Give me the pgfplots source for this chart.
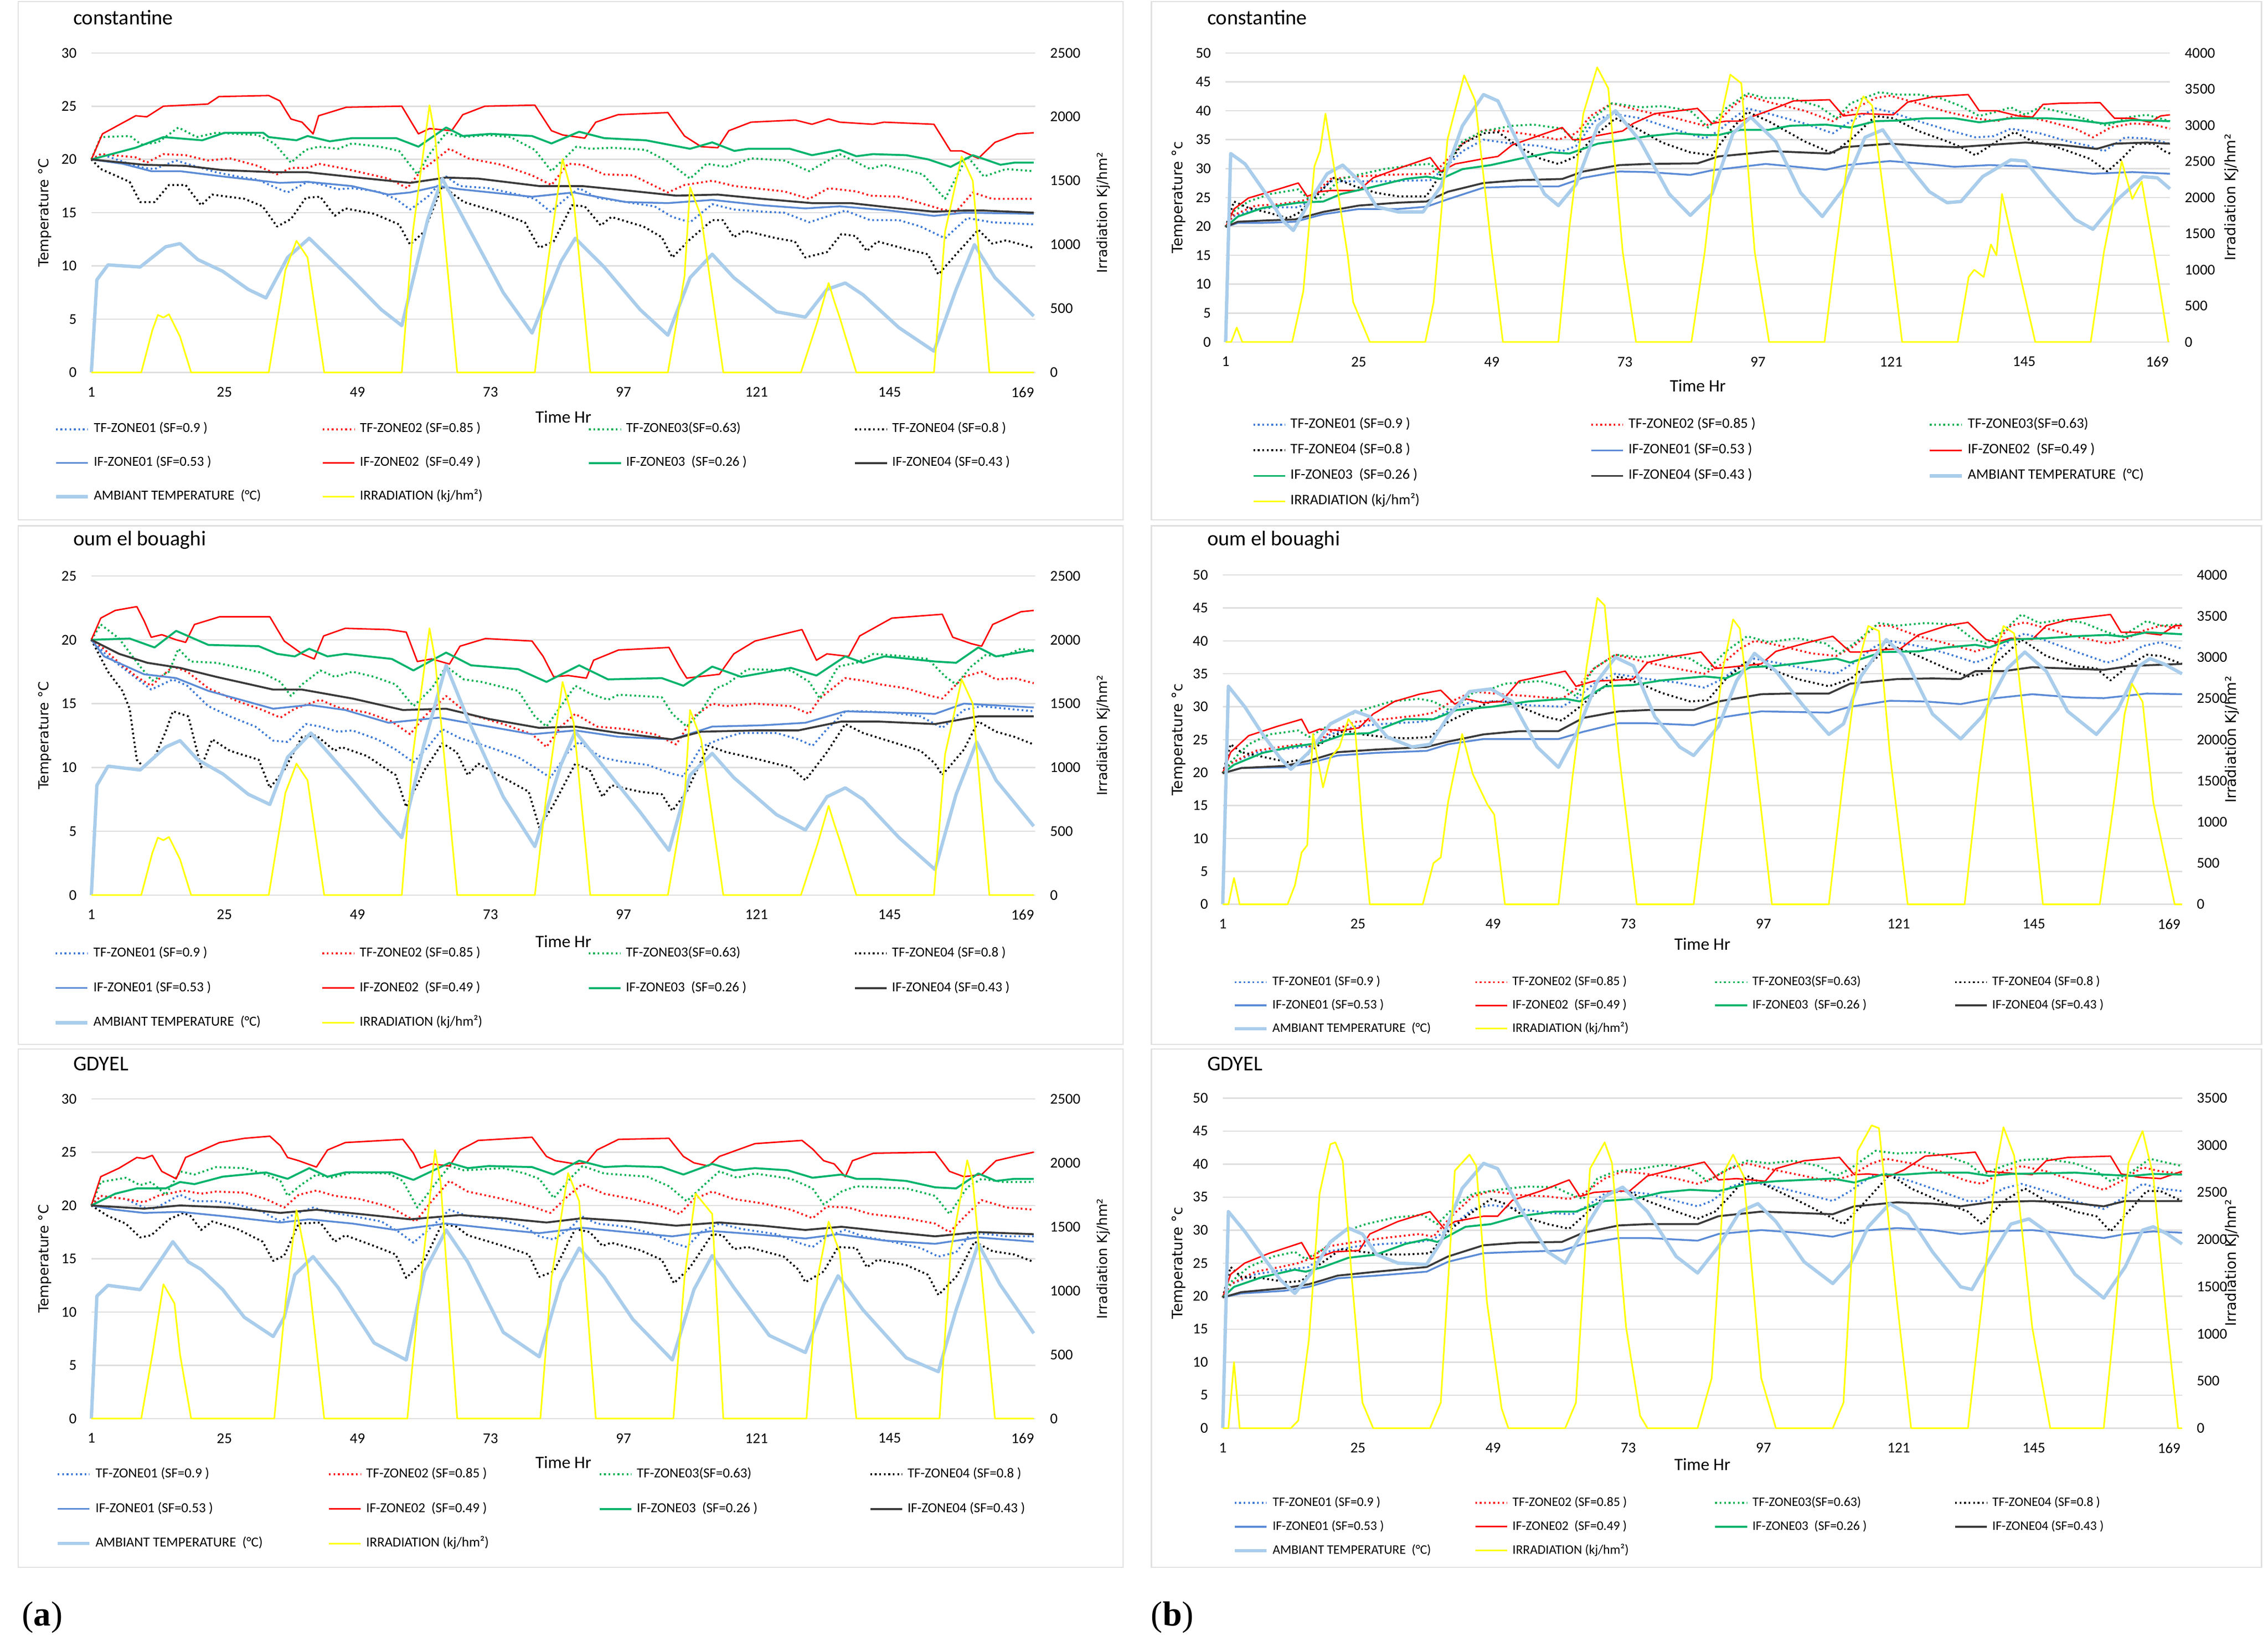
\documentclass[border=0pt]{standalone}
\usepackage{fontspec}
\setmainfont{Carlito}
\newfontfamily\dejavu{DejaVu Sans}
\newfontfamily\lserif{Liberation Serif}
\usepackage{pgfplots}
\pgfplotsset{compat=1.18}

\definecolor{tfblue}{HTML}{3B78D8}
\definecolor{ifblue}{HTML}{5B8BD6}
\definecolor{tfred}{HTML}{FF1A1A}
\definecolor{ifred}{HTML}{FF0000}
\definecolor{tfgreen}{HTML}{00B050}
\definecolor{ifgreen}{HTML}{00B36B}
\definecolor{ifblack}{HTML}{3A3A3A}
\definecolor{cAmb}{HTML}{A9CDEB}
\definecolor{cIrr}{HTML}{FFFF00}
\definecolor{gridc}{HTML}{DEDEDE}
\definecolor{framec}{HTML}{E0E0E0}

\tikzset{
  tf1/.style={tfblue, line width=1.35pt, dash pattern=on 1.2pt off 1.9pt},
  tf2/.style={tfred, line width=1.35pt, dash pattern=on 1.2pt off 1.9pt},
  tf3/.style={tfgreen, line width=1.35pt, dash pattern=on 1.2pt off 1.9pt},
  tf4/.style={black, line width=1.35pt, dash pattern=on 1.2pt off 1.9pt},
  if1/.style={ifblue, line width=1.25pt},
  if2/.style={ifred, line width=1.0pt},
  if3/.style={ifgreen, line width=1.35pt},
  if4/.style={ifblack, line width=1.35pt},
  amb/.style={cAmb, line width=2.3pt},
  irr/.style={cIrr, line width=1.1pt},
}

\pgfplotsset{
  pbase/.style={
    scale only axis, anchor=south west, width=651pt,
    xmin=1, xmax=171.3,
    xtick={1,25,49,73,97,121,145,169},
    axis line style={draw=none}, major tick length=0pt,
    tick label style={font=\fontsize{10.3}{12}\selectfont, inner sep=0pt},
    /pgf/number format/assume math mode=true,
    /pgf/number format/1000 sep={},
    scaled ticks=false, no markers, clip=false,
    every axis plot/.append style={line join=round},
  },
  pleft/.style={
    pbase, ymajorgrids, grid style={gridc, line width=0.9pt},
    xticklabel style={anchor=north, yshift=-10pt},
    yticklabel style={anchor=east, xshift=-10pt},
    xlabel={Time Hr},
    xlabel style={at={(axis description cs:0.5,0)}, anchor=center, font=\fontsize{12}{14}\selectfont},
    ylabel style={anchor=center, font=\dejavu\fontsize{9.5}{11}\selectfont},
    title style={at={(axis description cs:0,1)}, anchor=west, font=\fontsize{14.5}{17}\selectfont},
    legend cell align=left,
    legend image code/.code={\draw[##1] (0pt,0pt) -- (22pt,0pt);},
    legend style={draw=none, fill=none, inner sep=0pt, anchor=north west,
      at={(axis description cs:0,0)},
      nodes={inner sep=0pt, text height=7pt, text depth=2.5pt},
      /tikz/every odd column/.append style={column sep=3pt},
      /tikz/every even column/.append style={column sep=0pt}},
  },
  pright/.style={
    pbase, hide x axis, axis y line*=right,
    yticklabel style={anchor=west, xshift=10pt},
    ylabel={Irradiation Kj/hm²},
    ylabel style={anchor=center, font=\dejavu\fontsize{9.5}{11}\selectfont},
  },
}

\newcommand\LegendAll[1]{\legend{
  {\makebox[#1][l]{TF-ZONE01 (SF=0.9 )}},
  {\makebox[#1][l]{TF-ZONE02 (SF=0.85 )}},
  {\makebox[#1][l]{TF-ZONE03(SF=0.63)}},
  {\makebox[#1][l]{TF-ZONE04 (SF=0.8 )}},
  {\makebox[#1][l]{IF-ZONE01 (SF=0.53 )}},
  {\makebox[#1][l]{IF-ZONE02\ \ (SF=0.49 )}},
  {\makebox[#1][l]{IF-ZONE03\ \ (SF=0.26 )}},
  {\makebox[#1][l]{IF-ZONE04 (SF=0.43 )}},
  {\makebox[#1][l]{AMBIANT TEMPERATURE\ \ (°C)}},
  {\makebox[#1][l]{IRRADIATION (kj/hm²)}}}}

\begin{document}
\begin{tikzpicture}
\path[use as bounding box, fill=white] (0,0) rectangle (1564pt,1138pt);
% panel frames
\foreach \y in {779.5,418,57.4}{
  \draw[framec, line width=0.8pt] (12.5pt,\y pt) rectangle (774.5pt,\y pt+357.5pt);
  \draw[framec, line width=0.8pt] (794pt,\y pt) rectangle (1559.5pt,\y pt+357.5pt);
}
\node[anchor=west, font=\lserif\fontsize{24}{28}\selectfont, inner sep=0pt] at (15pt,23pt) {(\textbf{a})};
\node[anchor=west, font=\lserif\fontsize{24}{28}\selectfont, inner sep=0pt] at (793.6pt,23pt) {(\textbf{b})};

%================ (a) constantine ================
\begin{axis}[pleft, at={(63pt,881.2pt)}, height=220.3pt,
  ymin=0, ymax=30, ytick={0,5,...,30},
  title={constantine}, title style={xshift=-16pt, yshift=18.3pt},
  ylabel={Temperature °C}, ylabel style={at={(axis description cs:-0.0492,0.5)}},
  xlabel style={yshift=-30.5pt},
  legend columns=4,
  legend style={font=\fontsize{9.5}{11}\selectfont, xshift=-25.8pt, yshift=-34.15pt, row sep=13.8pt}]
\addplot[tf1] coordinates {(1,20.0)(2.7,20.5)(7.2,19.7)(10.5,19.2)(12.4,19.1)(16.3,19.9)(19.5,19.4)(23.5,18.8)(27.3,18.4)(31,18.1)(34.5,17.3)(36.4,16.9)(40,17.9)(42.9,17.6)(45.5,17.2)(48,17.3)(52.6,17.0)(55.9,16.3)(58.5,15.3)(61.7,16.5)(65,18.4)(67.5,17.5)(72.7,17.3)(78,16.7)(81,16.3)(83.8,15.1)(87,16.5)(89,17.3)(92.2,16.4)(97.4,16.0)(102.6,15.6)(105.8,14.6)(109,14.1)(113,15.8)(116.9,15.3)(122,15.1)(126,15.0)(130.5,14.1)(137,15.2)(141.5,14.3)(146.7,14.3)(150.6,13.7)(155,12.6)(159,14.5)(163.5,14.1)(171,13.9)};
\addplot[tf2] coordinates {(1,20.0)(2.7,20.5)(9,20.2)(11,19.7)(14,20.5)(18,20.4)(22,19.9)(26,20.1)(31,19.4)(34.5,18.6)(37,19.2)(40,19.2)(42,19.6)(47,19.1)(54.6,18.2)(58,17.3)(60.4,18.9)(65.6,21.0)(69,20.1)(75,19.5)(80.5,18.5)(84,17.6)(87,19.6)(89.6,19.5)(93.5,18.6)(98.7,18.5)(105,16.9)(108,17.6)(113,18.0)(117,17.5)(126,17.0)(130.5,16.3)(134,17.3)(139,17.0)(141.5,16.6)(146.7,16.5)(154.5,15.3)(157,15.1)(160,16.9)(163.5,16.3)(171,16.3)};
\addplot[tf3] coordinates {(1,20.0)(2.7,22.1)(8,22.2)(10,21.4)(13,21.6)(16.7,23.0)(20,22.1)(23.5,22.5)(31,22.3)(34,21.5)(37,19.7)(39.7,20.9)(42,21.2)(45.5,21.0)(48,21.5)(53,21.2)(56.5,20.8)(59.8,18.6)(62,20.5)(65,22.5)(68,22.1)(72.7,22.3)(76.6,22.1)(81,20.9)(84,18.9)(88.5,21.2)(91,21.0)(95,21.1)(101,20.9)(105,19.8)(109,18.2)(112,19.6)(115.5,19.3)(120,20.1)(126,19.9)(130.5,18.9)(136,20.5)(141.5,19.1)(144,19.5)(151,18.6)(155,16.3)(159,20.3)(162,18.4)(166,19.1)(171,18.9)};
\addplot[tf4] coordinates {(1,20.0)(2.7,19.1)(7.9,17.9)(9.8,16.0)(12.4,16.0)(15,17.6)(18,17.6)(20.8,15.7)(22.8,16.7)(28.6,16.3)(31.9,15.6)(34.5,13.7)(37,14.4)(39.7,16.4)(42.3,16.5)(44.9,14.7)(46.8,15.4)(52,14.9)(56.5,13.9)(58.5,12.0)(61,13.2)(64.3,17.5)(68.2,16.0)(74,15.1)(79.2,14.1)(81.8,11.7)(84.4,12.3)(87.7,15.7)(90,15.6)(92.9,13.8)(94.8,14.6)(100.6,13.7)(103.9,12.7)(105.8,10.8)(109,12.5)(113,14.3)(114.9,14.3)(116.9,12.7)(118.8,13.3)(124.6,12.6)(127.9,12.3)(129.8,10.8)(133.7,11.3)(136.3,13.0)(138.9,12.8)(140.9,11.4)(142.8,12.3)(148.6,11.5)(151.9,11.1)(153.8,9.2)(157,11.1)(161,13.4)(163.5,12.1)(166,12.4)(171,11.7)};
\addplot[if1] coordinates {(1,20.0)(6.6,19.6)(11.8,18.9)(17,18.9)(24.7,18.4)(35,17.8)(40,17.9)(48,17.5)(54.6,16.7)(58.5,16.9)(63.7,17.5)(67.5,17.2)(80.5,16.5)(88,16.9)(97.4,16.0)(105,15.9)(113,16.2)(122,15.7)(129.8,15.4)(136,15.6)(145,15.2)(153,14.7)(158.4,15.0)(171,14.9)};
\addplot[if2] coordinates {(1,20.0)(3,22.4)(9,24.1)(11,24.0)(14,25.0)(22,25.2)(24,25.9)(33,26.0)(35,25.5)(37,23.8)(39,23.5)(41,22.4)(42,24.1)(47,24.9)(57,25.0)(60,22.4)(62,22.9)(66,22.7)(68,24.2)(72,25.0)(81,25.1)(84,22.7)(86,22.3)(90,22.0)(92,23.5)(96,24.2)(105,24.4)(108,22.2)(111,21.2)(114,21.1)(116,22.7)(120,23.5)(128,23.7)(131,23.3)(134,23.8)(136,23.5)(142,23.3)(144,23.5)(153,23.3)(156,20.8)(158,20.8)(161,20.1)(164,21.6)(168,22.4)(171,22.5)};
\addplot[if3] coordinates {(1,20.0)(9,21.1)(14,22.1)(21,21.8)(25,22.5)(32,22.5)(33,22.1)(38,21.8)(40,22.2)(44,21.7)(48,22.0)(56,22.0)(60,21.2)(65,23.0)(68,22.2)(73,22.4)(80.5,22.2)(84,21.5)(89,22.6)(93.5,22.0)(101,21.8)(105,21.4)(109,21.0)(113,21.6)(117,20.8)(119.5,21.0)(127,21.0)(131,20.4)(136,20.9)(139,20.3)(142,20.5)(148,20.4)(152,20.0)(156,19.3)(160,20.4)(165,19.5)(167.5,19.7)(171,19.7)};
\addplot[if4] coordinates {(1,20.0)(10.5,19.5)(18,19.4)(24.7,19.0)(34,18.8)(40,18.8)(49,18.3)(58.5,17.8)(65,18.3)(70.8,18.2)(81.8,17.5)(89.6,17.5)(97.4,17.1)(106.5,16.6)(114,16.7)(122,16.3)(131,15.9)(138,15.9)(146.7,15.4)(153,15.1)(158.4,15.2)(162,15.2)(171,15.0)};
\addplot[amb] coordinates {(1,0)(2,8.7)(4,10.1)(9.8,9.9)(14.4,11.8)(17,12.1)(20.2,10.6)(24.7,9.5)(29.3,7.8)(32.5,7.0)(36.4,10.8)(40.3,12.6)(48,8.7)(53.3,5.9)(57,4.4)(61.7,14.4)(64.3,18.2)(68.9,13.7)(75.3,7.5)(80.5,3.7)(85.7,10.4)(88.3,12.6)(93.5,9.9)(100,5.9)(105,3.5)(109,8.9)(113,11.1)(116.9,8.9)(124.6,5.7)(129.8,5.2)(133.7,7.8)(137,8.4)(140.2,7.3)(146.7,4.2)(153,2.0)(157,7.8)(160.3,12.0)(164,8.9)(171,5.3)};
\addlegendimage{irr}
\LegendAll{157.2pt}
\end{axis}
\begin{axis}[pright, at={(63pt,881.2pt)}, height=220.3pt,
  ymin=0, ymax=2500, ytick={0,500,...,2500},
  ylabel style={at={(axis description cs:1.0722,0.5)}}]
\addplot[irr] coordinates {(1,0)(10,0)(12,330)(13,450)(14,430)(15,455)(17,280)(19,0)(33,0)(36,800)(38,1030)(40,900)(43,0)(57,0)(59,1100)(62,2090)(63,1850)(67,0)(81,0)(83,750)(86,1670)(88,1350)(91,0)(105,0)(108,750)(109,1450)(111,1220)(115,0)(129,0)(132,400)(134,700)(135,560)(136,430)(139,0)(153,0)(155,1100)(158,1690)(160,1500)(163,0)(171,0)};
\end{axis}

%================ (a) oum el bouaghi ================
\begin{axis}[pleft, at={(63pt,520.9pt)}, height=220pt,
  ymin=0, ymax=25, ytick={0,5,...,25},
  title={oum el bouaghi}, title style={xshift=-16pt, yshift=18.6pt},
  ylabel={Temperature °C}, ylabel style={at={(axis description cs:-0.0492,0.5)}},
  xlabel style={yshift=-32pt},
  legend columns=4,
  legend style={font=\fontsize{9.5}{11}\selectfont, xshift=-26pt, yshift=-35.15pt, row sep=14.5pt}]
\addplot[tf1] coordinates {(1,20.0)(4,18.7)(7.9,17.4)(11.8,16.1)(15.7,16.9)(18.3,16.4)(22.1,14.8)(26,14.0)(30.6,13.2)(33.8,12.1)(36.4,12.0)(39.7,13.4)(42.3,13.2)(45.5,12.8)(48.1,12.9)(52.6,12.2)(55.9,11.4)(59.1,10.4)(61.7,11.6)(64.3,13.0)(67.5,12.3)(72.7,11.6)(78,10.8)(81,10.0)(83.8,9.2)(87,11.2)(89,12.0)(92.9,10.8)(96.1,10.5)(101.3,10.2)(105.8,9.5)(107.8,9.3)(111,11.6)(114.3,12.2)(118.2,12.7)(124.6,12.7)(128.5,12.2)(131.1,11.7)(133.7,13.0)(137,14.4)(140.2,14.4)(145.4,14.3)(150.6,14.0)(154.5,13.1)(158.4,14.5)(161.6,14.8)(166.2,14.6)(171,14.4)};
\addplot[tf2] coordinates {(1,20.0)(2.7,19.5)(6,18.2)(9.2,17.1)(11.8,16.4)(15.7,17.9)(18.3,17.5)(22.1,16.2)(27.3,15.2)(31.9,14.5)(35.1,13.9)(37.7,14.6)(42.3,15.3)(45.5,14.7)(50.7,14.3)(55.2,13.6)(58.5,12.6)(61.1,14.0)(65,15.6)(68.9,14.2)(75.3,13.4)(80.5,12.6)(83.1,11.6)(85.7,13.2)(88.3,14.2)(92.2,13.2)(97.4,13.0)(102.6,12.6)(106.5,11.8)(109.7,14.0)(113,15.0)(115.5,14.8)(120.7,15.0)(127.2,14.8)(130.5,14.2)(132.4,15.4)(137,17.0)(140.2,16.8)(143.4,16.5)(148,16.2)(152.5,15.6)(154.5,15.4)(158.4,17.1)(161.6,17.5)(164.2,16.9)(167.5,17.0)(171,16.6)};
\addplot[tf3] coordinates {(1,20.0)(2.7,21.2)(6,20.1)(9.8,17.9)(12,16.8)(15,17.5)(16.7,19.3)(18.9,18.3)(23.5,18.2)(28,17.8)(31.9,17.4)(35.1,16.7)(37,15.6)(39,16.5)(42.3,17.6)(44.9,17.1)(48.1,17.5)(52,17.1)(55.9,16.5)(59.1,14.8)(62.4,16.2)(65,17.9)(68.2,16.9)(71.4,16.7)(78,16.0)(81,14.0)(83.1,13.2)(87,15.6)(88.3,16.4)(90.9,15.8)(94.2,15.3)(96.1,15.7)(103.9,15.5)(105.8,14.2)(108.4,13.2)(111,14.4)(113.6,16.2)(115.5,16.5)(119.4,17.7)(127.2,17.6)(130.5,16.7)(132.4,15.4)(135.7,17.9)(139,18.2)(142.1,18.9)(148,18.7)(151.9,18.5)(155.1,17.1)(157,16.5)(159.7,17.9)(162.3,18.8)(165.5,18.7)(168.7,19.3)(171,19.1)};
\addplot[tf4] coordinates {(1,20.0)(4,17.5)(6.6,16.0)(7.9,14.6)(9.2,10.6)(10.5,10.0)(12.4,10.8)(14.4,12.8)(15.7,14.4)(18.5,14.0)(20.8,10.0)(22.8,12.2)(26,11.3)(31.2,10.6)(33.2,8.4)(35.8,9.8)(39,12.4)(41.6,12.5)(44.9,11.3)(46.1,11.6)(50.7,10.9)(55.9,9.4)(57.8,6.9)(61.1,9.8)(64.3,11.9)(66.9,11.2)(68.9,9.4)(70.8,10.3)(75.3,9.2)(79.9,8.1)(81.8,5.3)(84.4,7.1)(88.3,10.3)(90.9,9.8)(93.2,7.7)(94.8,8.6)(100,8.1)(103.9,7.9)(105.8,6.6)(108.4,8.1)(112.3,11.7)(115.5,11.2)(120.7,10.7)(127.2,10.0)(129.8,9.0)(133.7,11.2)(137,13.4)(140.2,12.7)(145.4,12.0)(150.6,11.3)(153.2,10.3)(154.5,9.4)(158.4,11.4)(161,13.6)(164.2,12.8)(167.5,12.4)(171,11.8)};
\addplot[if1] coordinates {(1,20.0)(3.3,18.7)(10.5,17.3)(16.3,17.0)(22.1,16.0)(33.8,14.6)(40.3,14.9)(46.8,14.5)(54.6,13.5)(63.7,13.9)(72.7,13.2)(80.5,12.6)(88.3,12.9)(96.1,12.4)(105.8,12.2)(113,13.2)(122,13.3)(129.8,13.5)(137,14.4)(145.4,14.3)(153.2,14.2)(158.4,15.0)(171,14.7)};
\addplot[if2] coordinates {(1,20.0)(2.7,21.7)(5.3,22.3)(9.2,22.6)(10.5,21.5)(11.8,20.2)(13.7,20.4)(16.3,20.0)(18,19.8)(19.6,21.2)(24.1,21.8)(33.2,21.8)(35.8,19.9)(39,18.9)(41.2,18.5)(42.9,20.3)(46.8,20.9)(54.6,20.8)(57.8,20.6)(59.8,18.3)(62.4,18.5)(65.6,18.1)(67.5,19.5)(72.1,20.1)(80.5,19.9)(82.5,18.7)(84.4,17.1)(87,17.2)(90.3,17.0)(91.6,18.4)(96.1,19.2)(105.2,19.4)(107.1,17.9)(108.4,17.0)(114.3,17.3)(116.9,18.9)(120.7,19.9)(129.2,20.8)(131.8,18.4)(133.7,18.9)(137.6,18.7)(139.6,20.3)(145.4,21.7)(154.5,22.0)(156.4,20.2)(159.7,19.7)(161.6,19.5)(163.6,21.2)(168.7,22.2)(171,22.3)};
\addplot[if3] coordinates {(1,20.0)(7.9,20.1)(12.4,19.4)(16.3,20.7)(22.1,19.6)(31.2,19.5)(34.5,18.9)(37.7,18.7)(40.3,19.3)(43.6,18.7)(46.8,18.9)(55.2,18.5)(59.1,17.6)(65,19.0)(69.5,18.0)(78,17.7)(83.1,16.7)(89,18.0)(94.2,16.9)(103.9,17.0)(107.8,16.4)(113,17.9)(118.2,17.1)(127.2,17.8)(131.8,17.2)(137,18.7)(140.2,18.2)(144.1,18.7)(153.2,18.3)(157,18.2)(161,19.4)(164.2,18.7)(171,19.2)};
\addplot[if4] coordinates {(1,20.0)(6,18.9)(11.1,18.2)(17,17.8)(23.5,17.1)(33.8,16.1)(39,16.1)(48.1,15.4)(57.2,14.5)(65,14.6)(72.7,13.8)(81.8,13.1)(88.3,13.2)(96.1,12.7)(105.8,12.2)(111,12.8)(120.7,12.9)(128.5,12.9)(136.3,13.6)(142.8,13.6)(153.2,13.4)(161,14.0)(171,14.0)};
\addplot[amb] coordinates {(1,0)(2,8.6)(4,10.1)(9.8,9.8)(14.4,11.6)(17,12.1)(20.2,10.6)(24.7,9.5)(29.3,7.9)(33.2,7.1)(36.4,10.8)(40.6,12.7)(48.1,9.0)(53.3,6.3)(57,4.5)(61,11.8)(65,18.0)(68.9,13.8)(75.3,7.7)(81,3.8)(85.7,10.2)(88.3,12.8)(93.5,10.0)(100,6.5)(105.2,3.5)(109,9.4)(113,11.1)(116.9,9.2)(124.6,6.3)(129.8,5.1)(133.7,7.7)(137,8.4)(140.2,7.5)(146.7,4.5)(153.2,2.0)(157,7.9)(160.7,12.0)(164.2,9.0)(171,5.4)};
\addlegendimage{irr}
\LegendAll{157.2pt}
\end{axis}
\begin{axis}[pright, at={(63pt,520.9pt)}, height=220pt,
  ymin=0, ymax=2500, ytick={0,500,...,2500},
  ylabel style={at={(axis description cs:1.0722,0.5)}}]
\addplot[irr] coordinates {(1,0)(10,0)(12,330)(13,450)(14,430)(15,455)(17,280)(19,0)(33,0)(36,800)(38,1030)(40,900)(43,0)(57,0)(59,1100)(62,2090)(63,1850)(67,0)(81,0)(83,750)(86,1670)(88,1350)(91,0)(105,0)(108,750)(109,1450)(111,1220)(115,0)(129,0)(132,400)(134,700)(135,560)(136,430)(139,0)(153,0)(155,1100)(158,1690)(160,1500)(163,0)(171,0)};
\end{axis}

%================ (a) GDYEL ================
\begin{axis}[pleft, at={(63pt,160pt)}, height=220.4pt,
  ymin=0, ymax=30, ytick={0,5,...,30},
  title={GDYEL}, title style={xshift=-16pt, yshift=18.3pt},
  ylabel={Temperature °C}, ylabel style={at={(axis description cs:-0.0492,0.5)}},
  xlabel style={yshift=-30pt},
  legend columns=4,
  legend style={font=\fontsize{9.5}{11}\selectfont, xshift=-24.6pt, yshift=-33.55pt, row sep=14.3pt}]
\addplot[tf1] coordinates {(1,20.0)(2.7,20.9)(7.2,20.6)(10.5,19.8)(12.4,19.7)(17,21.0)(19.6,20.4)(23.5,20.4)(27.3,20.1)(31.9,19.4)(35.1,18.5)(37.7,19.2)(41,19.8)(43.6,19.4)(48.1,19.0)(53.3,18.5)(56.5,17.5)(59.1,16.5)(62.4,18.0)(65.6,19.6)(68.9,19.0)(74,18.8)(79.2,18.0)(81.8,17.1)(84.4,16.8)(87.7,18.0)(89.4,19.0)(92.2,18.3)(97.4,18.0)(102.6,17.3)(105.8,16.5)(108.4,16.1)(111,17.5)(114.3,18.3)(118.2,17.8)(124.6,17.3)(128.5,16.5)(131.1,16.1)(133.7,17.1)(137,17.7)(140.2,17.1)(145.4,16.6)(150.6,16.0)(153.8,15.2)(157,15.6)(159.7,17.4)(162.9,17.3)(166.2,17.1)(171,17.1)};
\addplot[tf2] coordinates {(1,20.0)(2.7,20.9)(7.2,20.6)(10.5,20.3)(13,20.9)(17.6,21.4)(20.8,21.1)(23.5,21.3)(28.6,21.2)(32.5,20.6)(35.8,19.8)(38.4,21.0)(41.6,21.4)(44.9,20.9)(49.4,20.6)(54.6,19.9)(57.2,19.2)(59.5,18.5)(62.4,20.4)(65.6,22.3)(68.9,21.3)(75.3,20.6)(81,19.8)(83.8,19.3)(87,20.9)(89.6,22.0)(93.5,21.1)(98.7,20.6)(103.9,19.9)(107.1,19.2)(109.7,20.6)(113,21.3)(116.9,20.6)(122,20.2)(127.2,19.6)(131.1,18.8)(133.7,19.9)(137.6,19.8)(141.5,19.2)(148,18.8)(153.2,18.3)(155.8,17.5)(159,19.2)(161.6,20.5)(166.2,19.8)(171,19.6)};
\addplot[tf3] coordinates {(1,20.0)(2.7,22.2)(7.2,22.6)(9.8,21.9)(11.8,22.2)(14.4,21.0)(17,23.2)(19.6,22.9)(23.5,23.6)(28.6,23.5)(32.5,22.9)(35.1,22.3)(36.4,20.9)(39,22.0)(41.6,22.9)(44.2,22.6)(48.1,23.1)(54.6,23.0)(57.2,22.3)(59.8,19.8)(63,22.0)(65.6,23.7)(68.2,23.3)(75.3,23.5)(79.2,23.0)(81.8,22.5)(84.4,20.7)(87.7,22.7)(89.6,23.7)(93.5,23.0)(101.3,22.7)(105.2,21.8)(108.4,20.4)(111.7,22.0)(114.3,23.2)(117.5,22.6)(120.7,23.0)(127.2,22.5)(131.1,21.6)(133.1,20.1)(136.3,21.3)(139,21.8)(142.8,21.7)(148,21.6)(153.2,20.9)(155.8,19.2)(159,21.7)(161.6,22.5)(165.5,22.2)(171,22.2)};
\addplot[tf4] coordinates {(1,20.0)(4,19.0)(7.2,18.3)(9.8,17.0)(11.8,17.2)(15,18.7)(17.6,19.3)(18.9,19.0)(20.8,17.7)(22.8,18.5)(27.3,17.8)(31.9,16.6)(33.8,14.8)(35.8,15.3)(38.4,18.3)(42.3,18.4)(44.9,16.6)(46.8,17.2)(52,16.2)(55.9,15.4)(57.8,13.2)(61.1,14.9)(64.3,18.3)(66.9,18.0)(68.9,17.2)(75.3,16.2)(79.9,15.4)(81.8,13.3)(84.4,13.8)(88.3,17.8)(90.9,17.5)(93.2,16.2)(94.8,16.5)(100,15.8)(103.9,14.9)(106.1,12.7)(109,14.2)(113,17.3)(114.9,17.2)(116.9,15.9)(119.4,16.1)(125.9,15.2)(128.5,14.0)(129.8,12.8)(133.1,13.8)(135.7,16.1)(139,16.0)(140.9,14.2)(142.8,14.9)(148,14.4)(151.9,13.5)(153.8,11.6)(157,13.3)(160.3,16.6)(163.6,15.7)(167.5,15.4)(171,14.7)};
\addplot[if1] coordinates {(1,20.0)(5.3,19.6)(10.5,19.3)(17,19.4)(24.7,19.0)(35.1,18.4)(40.3,18.7)(48.1,18.3)(55.9,17.7)(65,18.3)(74,17.8)(81.8,17.4)(89.6,17.9)(97.4,17.5)(105.8,17.1)(113,17.6)(120.7,17.3)(129.8,16.9)(135.7,17.3)(144.1,16.7)(153.2,16.4)(161,17.0)(171,16.6)};
\addplot[if2] coordinates {(1,20.0)(2.7,22.7)(6,23.5)(9.2,24.5)(10.5,24.4)(12,24.7)(13.7,23.2)(16.3,22.5)(18,24.5)(20.2,25.0)(24.1,25.9)(28.6,26.3)(33.2,26.5)(35.1,25.6)(36.4,24.5)(38.4,24.2)(41.6,23.6)(43.6,25.2)(46.8,25.9)(57.2,26.2)(59.1,24.9)(60.4,23.5)(62.4,23.9)(65.6,23.7)(67.5,25.2)(70.8,26.1)(80.5,26.4)(83.1,24.6)(84.7,24.2)(88.3,23.9)(90.3,24.0)(92.2,25.2)(96.1,26.2)(105.2,26.3)(107.8,24.6)(109.7,24.0)(112.3,23.7)(114.3,24.6)(117.5,25.2)(120.7,25.8)(129.2,26.1)(131.1,25.3)(133.1,24.2)(135,23.9)(137,22.7)(138.3,24.2)(142.1,24.9)(153.2,25.0)(155.8,23.2)(158.4,22.7)(161.6,22.9)(164.2,24.2)(167.5,24.6)(171,25.0)};
\addplot[if3] coordinates {(1,20.0)(5.3,21.1)(9.2,21.6)(14.4,21.6)(17,22.2)(19.6,22.0)(24.7,22.7)(32.5,23.1)(36.4,22.5)(40.3,23.5)(43.6,22.7)(46.8,23.1)(55.2,23.1)(59.1,22.4)(65.6,24.0)(68.9,23.5)(72.7,23.7)(80.5,23.6)(84.4,22.9)(89,24.2)(93.5,23.6)(97.4,23.7)(103.9,23.6)(107.8,22.9)(113,23.9)(116.9,23.3)(120.7,23.5)(126.6,23.3)(131.1,22.6)(136.3,22.9)(139,22.5)(142.8,22.5)(148,22.3)(153.2,21.7)(157,21.6)(161,23.0)(164.2,22.3)(167.5,22.5)(171,22.5)};
\addplot[if4] coordinates {(1,20.0)(10.5,19.7)(17,20.0)(26,19.8)(35.1,19.3)(41.6,19.6)(49.4,19.2)(58.5,18.7)(67.5,19.1)(75.3,18.8)(83.1,18.4)(89.6,18.8)(98.7,18.5)(106.5,18.1)(114.3,18.4)(122,18.1)(129.8,17.7)(136.3,18.0)(145.4,17.5)(153.2,17.1)(161,17.5)(171,17.3)};
\addplot[amb] coordinates {(1,0)(2,11.5)(4,12.5)(9.8,12.1)(13,14.5)(15.7,16.6)(18.5,14.7)(20.8,14.0)(24.7,12.1)(28.6,9.5)(33.8,7.7)(35.8,9.5)(37.7,13.5)(41,15.2)(45.5,12.3)(52,7.1)(57.8,5.5)(61.1,13.8)(65,17.7)(68.9,14.7)(75.3,8.1)(81.8,5.8)(85.7,12.8)(89,16.0)(93.5,13.3)(98.7,9.3)(105.8,5.5)(109.7,12.1)(113,15.3)(116.9,12.3)(123.3,7.8)(129.8,6.2)(133.1,10.7)(135.7,13.4)(140.2,10.2)(148,5.7)(153.8,4.4)(157,10.2)(161,16.4)(164.9,12.6)(171,8.0)};
\addlegendimage{irr}
\LegendAll{160.3pt}
\end{axis}
\begin{axis}[pright, at={(63pt,160pt)}, height=220.4pt,
  ymin=0, ymax=2500, ytick={0,500,...,2500},
  ylabel style={at={(axis description cs:1.0722,0.5)}}]
\addplot[irr] coordinates {(1,0)(10,0)(12,500)(14,1050)(16,900)(17,500)(19,0)(34,0)(36,900)(38,1630)(40,1190)(43,0)(58,0)(60,900)(63,2100)(64,1850)(67,0)(82,0)(84,1100)(87,1920)(89,1700)(92,0)(106,0)(108,1100)(110,1760)(113,1600)(115,0)(130,0)(132,1100)(134,1540)(136,1300)(139,0)(154,0)(156,1300)(159,2020)(160,1860)(164,0)(171,0)};
\end{axis}

%================ (b) constantine ================
\begin{axis}[pleft, at={(845.2pt,902.2pt)}, width=651.2pt, height=199.3pt,
  ymin=0, ymax=50, ytick={0,5,...,50},
  title={constantine}, title style={xshift=-16.2pt, yshift=18.3pt},
  ylabel={Temperature °c}, ylabel style={at={(axis description cs:-0.0499,0.5)}, font=\dejavu\fontsize{10}{12}\selectfont},
  xlabel style={yshift=-30pt},
  legend columns=3,
  legend style={font=\fontsize{10}{12}\selectfont, xshift=18.2pt, yshift=-52.15pt, row sep=8.1pt}]
\addplot[tf1] coordinates {(1,19.9)(2.3,21.7)(6.4,23.0)(10.3,23.3)(14.1,23.3)(16,24.3)(19.9,27.8)(24.4,27.8)(29.5,27.8)(37.9,28.0)(39.8,29.5)(43.7,33.0)(47.5,35.0)(52.7,34.3)(57.8,33.9)(61.7,33.0)(64.2,33.9)(67.5,38.2)(70.7,39.5)(75.8,38.7)(82.2,36.7)(87.4,35.2)(89.9,36.5)(92.5,38.7)(95.1,40.4)(98.9,39.5)(105.4,37.8)(110.5,36.1)(113.7,38.2)(118.2,40.4)(120.8,39.8)(125.9,38.2)(131.1,36.7)(136.2,35.4)(139.5,35.6)(142.6,36.9)(147.8,36.1)(152.9,34.7)(156.8,33.9)(159.4,33.0)(163.2,35.4)(167.1,35.2)(169.6,34.7)(171.3,34.3)};
\addplot[tf2] coordinates {(1,19.9)(2.3,21.9)(6.4,23.6)(10.3,23.8)(14.1,24.3)(16,24.7)(19.9,28.2)(24.4,28.6)(29.5,28.9)(37.9,29.1)(39.8,30.4)(43.7,34.3)(47.5,36.7)(51.4,36.5)(56.5,35.8)(61,35.0)(64.2,36.1)(66.8,39.1)(70.7,41.3)(75.8,40.0)(82.2,38.7)(87.4,37.4)(89.9,38.2)(92.5,40.8)(95.1,42.6)(98.9,41.5)(105.4,40.0)(110.5,38.2)(113.7,40.0)(118.2,42.2)(120.8,42.6)(125.9,41.3)(131.1,39.8)(136.2,38.7)(140.1,38.2)(143.9,39.3)(149.1,38.2)(154.2,36.9)(157.4,35.4)(160.6,37.1)(164.5,37.8)(168.3,37.6)(171.3,36.9)};
\addplot[tf3] coordinates {(1,19.9)(2.3,22.5)(5.1,24.3)(9,25.6)(14.1,26.4)(16,24.7)(18,24.9)(21.8,28.2)(25.7,29.1)(29.5,29.9)(34.7,30.6)(37.9,30.8)(39.8,29.1)(43.7,34.7)(47.5,36.5)(52.7,37.4)(56.5,37.6)(61.7,36.9)(64.2,34.7)(66.8,38.4)(70.7,41.3)(75.8,40.6)(79.7,40.8)(84.8,40.0)(88,37.1)(91.2,40.4)(95.1,43.0)(98.3,42.2)(102.8,42.2)(107.9,40.8)(111.2,38.7)(113.7,41.3)(118.9,43.2)(122.1,42.8)(125.9,42.8)(129.8,42.2)(133.6,40.8)(136.9,39.1)(140.7,40.0)(142.6,40.6)(145.2,39.3)(147.8,40.6)(151.6,39.8)(155.5,38.7)(160,37.4)(163.9,38.9)(167.1,39.3)(171.3,38.2)};
\addplot[tf4] coordinates {(1,19.9)(2.5,24.3)(5.1,23.2)(9,22.3)(12.2,21.4)(14.1,22.3)(17.3,25.2)(20.5,28.4)(24.4,26.9)(28.2,25.8)(32.1,25.2)(37.2,25.2)(39.8,29.1)(43.7,34.3)(47.5,36.1)(50.1,36.3)(54,33.7)(57.8,31.7)(61,30.8)(64.2,32.1)(67.5,35.6)(71.3,38.7)(75.2,36.9)(79.7,34.5)(84.8,32.8)(88.7,32.3)(91.9,36.5)(95.1,39.8)(98.9,38.2)(105.4,34.7)(110.5,32.6)(114.4,35.6)(118.2,39.1)(121.4,38.7)(125.9,36.5)(131.1,34.7)(133.6,33.7)(136.2,32.3)(140.1,34.7)(143.3,36.3)(146.5,34.7)(150.3,33.9)(154.2,32.6)(156.8,31.7)(160,29.5)(162.6,31.7)(165.2,34.3)(168.4,34.3)(170.3,33.0)(171.3,32.6)};
\addplot[if1] coordinates {(1,19.9)(3.2,20.6)(7.7,20.6)(13.5,20.8)(18.6,22.1)(25,23.0)(32.1,23.0)(37.2,23.4)(41.1,24.7)(47.5,26.7)(54,26.9)(61,26.9)(65.5,28.4)(72,29.5)(77.1,29.4)(84.8,28.9)(88.7,29.7)(98.4,30.8)(102.8,30.4)(109.2,29.8)(113.1,30.6)(120.8,31.3)(127.2,30.8)(132.4,30.3)(138.7,30.6)(145.2,30.4)(151.6,29.7)(157.4,29.1)(164.5,29.4)(171.3,29.1)};
\addplot[if2] coordinates {(1,19.9)(2.5,23.0)(5.1,24.9)(9,26.0)(14.1,27.5)(15.7,25.2)(18,26.0)(19.9,26.2)(25,26.2)(27.6,28.4)(32.7,30.2)(37.9,31.9)(39.8,29.5)(42.4,30.8)(47.5,31.7)(50.1,32.1)(52.7,34.1)(57.8,35.8)(61.7,37.1)(63.6,35.0)(65.5,35.0)(67.5,35.6)(72.6,36.5)(74.5,37.8)(78.4,39.5)(86.1,40.4)(88.7,37.8)(91.2,38.2)(93.8,38.2)(95.7,38.9)(98.9,40.0)(103.4,41.7)(109.9,41.9)(112.4,39.1)(115.7,39.5)(121.4,39.3)(124,41.5)(128.5,42.4)(134.9,42.8)(136.9,40.0)(140.1,40.0)(143.9,39.1)(146.5,38.9)(148.4,41.1)(151.6,41.3)(158.7,41.4)(161.3,38.7)(164.5,38.7)(167.7,38.0)(169.6,39.1)(171.3,39.3)};
\addplot[if3] coordinates {(1,19.9)(3.2,21.7)(7.7,23.2)(14.1,24.1)(18.6,24.3)(21.8,25.6)(27,26.7)(33.4,28.2)(37.2,28.6)(39.8,28.2)(43.7,29.9)(48.8,30.6)(54,31.7)(59.7,32.8)(63,32.6)(68.1,34.3)(73.2,35.0)(77.1,35.6)(82.2,36.1)(87.4,35.8)(89.9,35.8)(93.8,36.7)(98.9,36.7)(102.8,37.4)(109.2,37.6)(113.7,37.1)(118.2,38.2)(122.1,38.3)(127.2,38.7)(132.4,38.7)(136.9,38.0)(142.6,38.7)(149.1,38.7)(154.2,38.4)(159.4,37.8)(164.5,38.4)(171.3,38.2)};
\addplot[if4] coordinates {(1,19.9)(3.2,20.8)(7.7,21.0)(13.5,21.2)(18.6,22.5)(25,23.6)(32.1,24.1)(37.2,24.3)(41.1,26.0)(47.5,27.5)(54,28.0)(61.7,28.2)(65.5,29.5)(72,30.6)(77.1,30.8)(86.1,30.9)(89.9,32.1)(99.7,33.0)(109.9,32.6)(112.4,33.7)(120.8,34.3)(127.2,33.9)(132.9,33.7)(138.7,34.1)(145.2,34.5)(151.6,34.1)(158.1,33.4)(161.3,34.3)(167.1,34.5)(171.3,34.3)};
\addplot[amb] coordinates {(1,0)(1.9,32.6)(4.5,30.8)(8.3,25.6)(11.5,20.8)(13.2,19.3)(16,24.1)(19.3,29.1)(22.1,30.6)(25.7,27.3)(28.2,23.4)(32.1,22.5)(36.6,22.5)(39.8,26.9)(43.7,37.4)(47.5,42.8)(50.1,41.7)(54,33.9)(58.5,25.6)(61,23.6)(64.2,27.3)(68.1,37.4)(71.3,40.0)(75.8,34.7)(81,25.6)(84.8,21.9)(88.7,25.6)(92.5,36.1)(95.7,38.9)(100.2,34.7)(104.7,25.8)(108.6,21.7)(112.4,26.5)(116.3,35.4)(119.5,36.7)(123.4,31.3)(127.9,26.0)(131.1,24.1)(133.6,24.3)(137.5,28.6)(142.6,31.5)(145.2,31.3)(149.7,26.0)(154.2,21.2)(157.4,19.5)(161.9,24.7)(166.4,28.6)(169,28.4)(171.3,26.5)};
\addlegendimage{irr}
\LegendAll{206.7pt}
\end{axis}
\begin{axis}[pright, at={(845.2pt,902.2pt)}, width=651.2pt, height=199.3pt,
  ymin=0, ymax=4000, ytick={0,500,...,4000},
  ylabel style={at={(axis description cs:1.0654,0.5)}, font=\dejavu\fontsize{10}{12}\selectfont}]
\addplot[irr] coordinates {(1,0)(2,0)(3,200)(4,0)(13,0)(15,700)(17,2430)(18,2640)(19,3160)(21,2200)(23,1200)(24,550)(27,0)(37,0)(38.5,550)(41,2800)(44,3690)(46,3340)(49,1250)(51,0)(61,0)(63,1590)(65.5,3160)(68,3800)(70,3510)(72.6,1250)(75,0)(85,0)(87.4,1250)(90,2990)(92,3700)(94,3580)(96.4,1250)(99,0)(109,0)(111,1250)(114,2990)(116,3400)(117.6,3270)(121,1250)(123,0)(133,0)(135,900)(136,1000)(137.7,900)(139,1350)(140,1200)(141,2050)(143.3,1250)(147,0)(157,0)(159.4,1250)(162.6,2500)(164.5,1980)(166.2,2220)(168.4,1250)(171,0)};
\end{axis}

%================ (b) oum el bouaghi ================
\begin{axis}[pleft, at={(843.2pt,514.5pt)}, width=661.5pt, height=227.1pt,
  ymin=0, ymax=50, ytick={0,5,...,50},
  title={oum el bouaghi}, title style={xshift=-14.2pt, yshift=17.9pt},
  ylabel={Temperature °c}, ylabel style={at={(axis description cs:-0.0461,0.5)}, font=\dejavu\fontsize{10}{12}\selectfont},
  xlabel style={yshift=-27.5pt},
  legend columns=4,
  legend style={font=\fontsize{9}{11}\selectfont, xshift=6.8pt, yshift=-48.75pt, row sep=6.5pt}]
\addplot[tf1] coordinates {(1,19.9)(2.4,21.4)(6.8,23.0)(11.2,23.5)(15,23.9)(16.9,23.9)(20.1,25.8)(24.5,27.0)(29.6,27.4)(35.9,27.7)(38.4,28.1)(41.6,29.6)(45.4,30.8)(50.5,30.8)(55.5,30.2)(61.2,30.0)(63.7,31.2)(66.9,33.5)(70.7,35.0)(76.4,34.2)(81.5,33.7)(86.5,32.9)(89.7,34.2)(92.8,36.2)(95.4,37.3)(99.2,36.7)(105.5,35.6)(109.9,35.0)(113.1,36.7)(116.9,39.2)(119.4,40.0)(124.5,39.2)(129.5,38.1)(134.6,36.7)(137.7,37.7)(140.9,40.2)(143.4,41.1)(147.2,40.0)(152.3,38.4)(158,36.7)(160.5,37.3)(164.3,39.2)(167.5,39.8)(171.3,38.8)};
\addplot[tf2] coordinates {(1,19.9)(2.4,21.4)(6.8,23.3)(11.2,23.9)(15,24.3)(16.9,23.9)(20.1,26.2)(24.5,27.7)(29.6,28.1)(35.9,28.7)(38.4,29.1)(41.6,30.8)(45.4,32.3)(50.5,31.9)(55.5,31.6)(61.2,31.2)(63.7,32.7)(66.9,35.8)(70.7,37.9)(76.4,36.7)(81.5,35.8)(86.5,35.0)(89.7,36.5)(92.8,38.8)(95.4,40.0)(99.2,39.4)(105.5,38.1)(109.9,37.7)(113.1,39.2)(116.9,42.3)(119.4,42.3)(124.5,40.7)(129.5,39.6)(134.6,38.4)(137.7,39.2)(140.9,42.3)(143.4,42.8)(147.2,41.9)(152.3,40.7)(158,39.6)(160.5,40.0)(164.3,41.5)(167.5,42.3)(171.3,41.9)};
\addplot[tf3] coordinates {(1,19.9)(2.4,21.6)(5.6,24.3)(9.3,25.8)(14.4,26.4)(16.3,25.4)(19.5,27.0)(22.6,28.5)(25.8,29.5)(30.9,30.8)(35.9,31.2)(38.4,30.8)(41.6,29.3)(45.4,32.1)(48.6,32.7)(51.1,33.5)(57.4,33.9)(61.2,33.1)(63.7,31.6)(66.9,35.8)(70.7,37.9)(75.1,37.5)(78.9,37.9)(84,37.3)(87.1,35.6)(90.3,38.4)(94.1,40.7)(97.9,39.8)(103,40.4)(108,39.6)(110.5,38.1)(113.1,39.6)(117.5,42.7)(120.7,42.3)(125.7,42.7)(130.8,42.5)(134,40.4)(136.5,39.6)(139.6,41.5)(142.8,44.0)(146,42.7)(149.8,43.2)(153.6,42.8)(157.4,41.5)(160.5,40.6)(165,43.0)(167.5,42.3)(171.3,42.5)};
\addplot[tf4] coordinates {(1,19.9)(2.4,24.3)(4.3,23.1)(8.1,22.4)(12.5,21.6)(15,22.0)(18.2,24.3)(22.6,26.4)(25.8,25.8)(29.6,25.4)(33.4,25.2)(37.8,25.4)(41,27.7)(44.8,29.3)(48.6,30.8)(51.7,30.8)(54.9,29.6)(58.1,28.5)(61.2,27.9)(64.4,30.0)(67.5,32.3)(71.3,34.6)(75.1,33.5)(78.9,32.1)(84,30.8)(87.1,31.0)(90.3,34.2)(94.1,36.9)(97.9,35.8)(103,34.2)(108.6,33.1)(112.4,34.2)(116.9,37.3)(119.4,39.4)(124.5,37.7)(129.5,35.8)(133.3,34.6)(135.8,35.0)(139.6,37.7)(142.8,40.2)(147.2,37.7)(152.3,36.2)(156.1,35.8)(158.6,34.0)(161.8,36.2)(165,37.9)(167.5,37.7)(171.3,36.5)};
\addplot[if1] coordinates {(1,19.9)(4.3,20.7)(11.9,20.8)(16.3,21.4)(21.4,22.6)(28.3,23.0)(37.2,23.3)(41,24.3)(47.3,25.1)(53.6,25.1)(60.6,25.1)(65,26.2)(71.3,27.5)(76.4,27.5)(84.6,27.2)(89,28.3)(96.6,29.3)(103,29.2)(108.6,29.1)(112.4,30.0)(119.4,30.9)(125.7,30.8)(132,30.4)(137.1,31.2)(144.7,31.9)(152.3,31.4)(157.4,31.3)(165,32.0)(171.3,31.9)};
\addplot[if2] coordinates {(1,19.9)(2.4,23.1)(5.6,25.6)(10.6,27.0)(15,28.1)(16.3,26.0)(18.2,26.6)(22,26.4)(25.2,26.8)(27.7,28.9)(31.5,30.8)(35.9,31.9)(39.7,32.5)(42.2,30.4)(44.1,31.2)(47.3,30.6)(50.5,30.8)(53.6,33.9)(57.4,34.6)(61.8,35.4)(63.7,33.1)(66.9,33.9)(70.1,34.0)(73.9,34.2)(76.4,36.7)(80.2,37.5)(85.9,38.3)(88.4,35.8)(91,36.0)(96.6,36.5)(99.2,38.4)(104.2,39.6)(109.3,40.7)(112.4,38.3)(114.3,38.3)(116.9,38.6)(121.3,38.8)(124.5,40.9)(129.5,42.3)(133.3,42.8)(136.5,40.2)(138.4,39.8)(140.9,40.4)(144.7,40.2)(147.2,42.3)(151,43.2)(158.6,44.0)(160.5,41.3)(163.7,41.3)(167.5,40.9)(170,42.3)(171.3,42.3)};
\addplot[if3] coordinates {(1,19.9)(3,21.2)(8.1,23.0)(13.1,23.9)(18.2,24.5)(22.6,25.8)(27.1,26.0)(33.4,28.1)(38.4,28.1)(42.5,29.5)(48.8,30.0)(55.2,30.8)(61.8,31.2)(64.4,30.8)(68.8,33.1)(73.9,33.3)(78.9,34.0)(86.5,34.6)(90.3,34.3)(94.7,36.0)(99.2,36.2)(104.2,36.7)(109.9,37.3)(112.4,36.7)(118.1,38.3)(124.5,38.4)(129.5,39.0)(134.6,39.4)(137.1,39.0)(140.9,40.2)(147.2,40.4)(152.3,40.7)(158,40.9)(161.2,40.6)(165,41.3)(171.3,41.0)};
\addplot[if4] coordinates {(1,19.9)(4.3,20.7)(11.9,21.0)(16.3,21.8)(21.4,23.1)(28.3,23.5)(37.2,23.9)(41,24.7)(47.3,25.8)(53.6,26.3)(60.6,26.3)(65,28.3)(71.3,29.3)(76.4,29.5)(84.6,29.5)(89,30.8)(96.6,31.9)(101.7,32.0)(108.6,32.0)(112.4,33.5)(120.7,34.2)(127,34.3)(132,34.2)(134.6,35.4)(139.6,35.4)(144.7,36.0)(151,35.8)(157.4,35.6)(162.4,36.2)(171.3,36.5)};
\addplot[amb] coordinates {(1,0)(2,33.1)(4.9,30.0)(8.1,25.8)(11.2,22.2)(13.1,20.5)(16.3,23.1)(20.1,27.4)(24.5,29.3)(27.1,28.5)(30.2,25.4)(34.6,23.9)(37.8,24.3)(41,28.5)(44.8,32.3)(48.6,32.7)(52.4,30.8)(56.8,23.9)(60.6,20.8)(63.7,25.8)(67.5,33.9)(70.7,37.5)(73.9,36.2)(77.7,28.5)(82.1,23.9)(84.6,22.6)(89,27.0)(92.2,33.9)(95.4,38.1)(99.2,35.4)(104.2,30.0)(108.6,25.8)(111.2,27.4)(114.3,34.6)(118.8,40.2)(121.9,37.7)(127,28.9)(132,25.1)(135.8,28.5)(140.3,35.8)(143.4,38.3)(147.2,35.4)(151,29.3)(156.1,25.8)(159.9,29.6)(163.7,36.2)(165.6,37.3)(168.1,36.5)(171.3,35.0)};
\addlegendimage{irr}
\LegendAll{139.1pt}
\end{axis}
\begin{axis}[pright, at={(843.2pt,514.5pt)}, width=661.5pt, height=227.1pt,
  ymin=0, ymax=4000, ytick={0,500,...,4000},
  ylabel style={at={(axis description cs:1.0519,0.5)}, font=\dejavu\fontsize{10}{12}\selectfont}]
\addplot[irr] coordinates {(1,0)(2,0)(3,320)(4,0)(12.5,0)(13.8,230)(15,630)(16,720)(17,2070)(18.8,1420)(20.1,1780)(21.7,1910)(23.3,2250)(24.5,2130)(25.8,930)(27.1,0)(36.5,0)(38.4,500)(39.7,570)(41,1240)(43.5,2070)(45.4,1580)(48,1210)(49.2,1090)(51.1,0)(60.6,0)(63.1,1550)(65.6,2890)(67.5,3720)(68.8,3630)(71.3,1850)(74.5,0)(84.6,0)(87.1,1390)(89.7,2830)(91.6,3460)(92.8,3350)(95.4,1850)(98.5,0)(108.6,0)(111.2,1550)(113.7,2890)(115.6,3380)(117.5,3320)(119.4,1850)(122.6,0)(132.7,0)(135.2,1550)(137.7,2890)(139.6,3380)(141.5,3290)(144.1,1700)(146.6,0)(156.7,0)(159.2,1240)(161.1,2310)(162.4,2680)(164.3,2460)(166.2,1240)(170,0)(171.3,0)};
\end{axis}

%================ (b) GDYEL ================
\begin{axis}[pleft, at={(843.2pt,153.4pt)}, width=661.5pt, height=227.6pt,
  ymin=0, ymax=50, ytick={0,5,...,50},
  title={GDYEL}, title style={xshift=-14.2pt, yshift=17.7pt},
  ylabel={Temperature °c}, ylabel style={at={(axis description cs:-0.0461,0.5)}, font=\dejavu\fontsize{10}{12}\selectfont},
  xlabel style={yshift=-25pt},
  legend columns=4,
  legend style={font=\fontsize{9}{11}\selectfont, xshift=6.9pt, yshift=-46.45pt, row sep=7pt}]
\addplot[tf1] coordinates {(1,19.8)(2.4,21.8)(6.8,23.3)(11.2,23.9)(14.4,24.2)(16.3,24.4)(19.5,26.7)(24.5,27.5)(29.6,27.9)(35.9,28.2)(38.4,28.6)(41.6,30.5)(45.4,33.2)(48.6,33.8)(53.6,33.2)(58.7,32.6)(63.1,32.4)(65.6,33.6)(68.8,35.5)(72,35.9)(76.4,35.5)(81.5,34.4)(85.3,33.6)(87.8,34.4)(91,36.5)(94.1,37.4)(97.9,36.8)(104.2,35.5)(109.3,34.4)(112.4,35.9)(116.2,38.2)(118.8,38.5)(123.2,37.4)(128.3,35.9)(133.3,34.4)(135.8,34.4)(139.6,36.3)(142.8,37.0)(147.2,35.9)(152.3,34.4)(157.4,33.2)(160.5,34.7)(164.3,37.0)(167.5,36.3)(171.3,35.9)};
\addplot[tf2] coordinates {(1,19.8)(2.4,21.8)(6.8,23.7)(11.2,24.4)(14.4,25.0)(16.3,25.6)(19.5,27.5)(24.5,28.2)(29.6,28.8)(35.9,29.4)(38.4,29.0)(41.6,32.1)(45.4,35.1)(48.6,35.9)(53.6,35.3)(58.7,35.1)(62.5,34.7)(65,35.5)(68.8,37.8)(72,38.9)(76.4,38.5)(81.5,37.8)(85.3,37.0)(87.8,37.8)(91,39.3)(94.1,40.1)(97.9,39.3)(104.2,38.2)(108.6,37.4)(112.4,38.2)(116.2,40.1)(118.8,40.8)(123.2,40.1)(128.3,38.9)(133.3,37.4)(135.8,37.0)(139.6,38.9)(142.8,39.7)(147.2,38.9)(152.3,37.4)(157.4,36.1)(160.5,37.4)(164.3,39.5)(167.5,38.9)(171.3,38.5)};
\addplot[tf3] coordinates {(1,19.8)(2.4,22.1)(5.6,24.4)(10,26.0)(13.8,26.7)(15.7,25.6)(18.8,27.1)(22.6,29.8)(26.4,30.9)(31.5,31.9)(36.5,32.3)(39.1,30.9)(42.2,33.6)(45.4,35.5)(49.8,36.1)(54.9,36.6)(60,36.5)(62.5,35.5)(65,34.7)(67.5,37.8)(70.7,38.9)(75.1,39.3)(79.6,39.9)(84,39.3)(87.1,37.4)(90.3,39.1)(94.1,40.5)(97.9,40.1)(102.3,40.5)(106.8,39.7)(109.9,38.2)(112.4,39.3)(116.9,42.0)(120.7,41.6)(125.7,41.8)(129.5,41.2)(133.3,40.1)(135.8,38.4)(139.6,39.7)(142.8,40.6)(147.2,40.8)(152.3,40.1)(156.1,38.9)(158.6,37.4)(161.8,38.5)(165.6,40.8)(168.1,40.3)(171.3,39.7)};
\addplot[tf4] coordinates {(1,19.8)(2.4,24.4)(4.3,22.9)(8.1,22.7)(12.5,22.1)(15,22.3)(18.2,24.8)(22,27.1)(25.8,26.7)(29.6,26.3)(33.4,26.3)(37.8,26.5)(41,29.8)(44.8,32.4)(48.6,34.7)(51.1,34.0)(54.9,31.9)(58.7,30.9)(62.5,30.2)(65,32.1)(68.8,35.1)(72,36.3)(76.4,34.4)(81.5,32.8)(85.3,31.7)(88.4,32.8)(91,35.1)(94.1,38.2)(97.9,36.6)(104.2,34.0)(108.6,32.1)(111.2,30.9)(114.3,33.6)(117.5,36.6)(119.4,38.4)(123.2,36.3)(128.3,34.4)(133.3,32.8)(135.8,30.9)(139.6,34.4)(143.4,36.3)(147.2,34.4)(152.3,32.8)(156.1,32.1)(158.6,29.8)(161.8,32.8)(165,35.9)(167.5,35.9)(171.3,34.4)};
\addplot[if1] coordinates {(1,19.8)(4.3,20.4)(11.9,20.8)(16.3,21.4)(21.4,22.7)(28.3,23.1)(37.2,23.7)(41,25.2)(47.3,26.5)(53.6,26.7)(61.2,26.9)(65,27.9)(71.3,28.8)(76.4,28.8)(85.3,28.4)(89,29.4)(96.6,30.0)(103,29.6)(109.3,29.0)(113.1,29.8)(120.7,30.3)(127,30.0)(132,29.4)(137.1,29.8)(144.7,30.0)(151,29.4)(157.4,28.8)(161.2,29.4)(166.2,29.8)(171.3,29.6)};
\addplot[if2] coordinates {(1,19.8)(2.4,23.3)(4.9,25.0)(9.3,26.5)(15,28.1)(16.7,25.6)(18.8,26.1)(20.7,26.7)(25.2,26.9)(27.1,29.4)(32.1,31.3)(37.8,32.8)(40.3,30.2)(42.2,31.3)(47.3,32.1)(49.8,32.1)(52.4,34.5)(57.4,35.9)(62.5,37.6)(64.4,35.1)(66.9,35.7)(70.1,35.9)(73.2,35.9)(76.4,38.2)(81.5,39.3)(86.5,40.3)(89,37.6)(92.2,37.8)(97.3,37.4)(99.2,39.3)(104.2,40.5)(110.5,41.0)(113.1,38.4)(115.6,38.5)(119.4,38.2)(121.9,39.1)(125.7,41.2)(134.6,41.8)(136.5,38.9)(139.6,38.7)(144.7,38.4)(147.2,40.5)(151,41.0)(158.6,41.2)(160.5,38.5)(163.7,38.0)(167.5,37.8)(171.3,38.9)};
\addplot[if3] coordinates {(1,19.8)(3,21.4)(8.1,22.9)(13.8,24.0)(15.7,23.7)(18.8,24.4)(23.3,25.8)(28.3,26.3)(33.4,27.9)(37.2,28.6)(39.1,28.2)(44.1,30.5)(48.6,30.9)(53.6,32.1)(60,32.8)(63.7,32.8)(68.8,34.4)(73.9,34.7)(78.9,35.7)(84,36.1)(89,35.9)(94.1,37.0)(99.2,37.4)(104.2,37.6)(109.3,37.8)(113.1,37.2)(118.1,38.4)(121.9,38.4)(127,38.7)(133.3,38.7)(137.1,38.2)(140.9,38.5)(147.2,38.6)(152.3,38.7)(157.4,38.4)(162.4,38.2)(166.2,38.5)(171.3,38.4)};
\addplot[if4] coordinates {(1,19.8)(4.3,20.6)(11.9,21.2)(16.3,21.8)(21.4,23.1)(28.3,23.7)(37.2,24.4)(41,26.0)(47.3,27.7)(53.6,28.1)(61.2,28.2)(65,29.6)(71.3,30.7)(76.4,30.9)(85.3,30.9)(89,32.1)(96.6,32.8)(103,32.6)(109.3,32.4)(113.1,33.6)(120.7,34.2)(127,34.0)(132,33.6)(137.1,34.2)(144.7,34.4)(151,34.2)(157.4,33.6)(161.2,34.4)(171.3,34.4)};
\addplot[amb] coordinates {(1,0)(2,32.8)(4.9,29.8)(8.1,26.0)(11.2,22.5)(13.8,20.4)(16.9,23.7)(20.1,28.2)(23.3,30.3)(25.8,29.4)(28.3,26.3)(32.1,25.0)(37.2,24.8)(39.7,28.2)(43.5,36.3)(47.3,40.1)(49.8,39.3)(53.6,33.6)(58.7,26.7)(61.8,25.0)(65,29.8)(68.8,35.1)(72,36.5)(76.4,32.8)(81.5,26.0)(85.3,23.5)(89,27.5)(92.8,32.8)(96,34.0)(99.2,31.3)(104.2,25.2)(109.3,21.9)(112.4,24.8)(115.6,30.5)(119.4,34.0)(122.6,32.4)(127,26.7)(132,21.4)(134,21.0)(137.1,25.6)(140.9,30.9)(144.1,31.7)(147.2,29.8)(152.3,23.3)(157.4,19.7)(161.2,24.4)(164.3,30.0)(166.2,30.5)(168.7,29.4)(171.3,27.9)};
\addlegendimage{irr}
\LegendAll{139.1pt}
\end{axis}
\begin{axis}[pright, at={(843.2pt,153.4pt)}, width=661.5pt, height=227.6pt,
  ymin=0, ymax=3500, ytick={0,500,...,3500},
  ylabel style={at={(axis description cs:1.0519,0.5)}, font=\dejavu\fontsize{10}{12}\selectfont}]
\addplot[irr] coordinates {(1,0)(2,0)(3,700)(4,0)(13.1,0)(14.4,80)(16.3,940)(18.2,2490)(20.1,3010)(21,3030)(22.3,2830)(23.9,1600)(25.8,270)(27.7,0)(37.8,0)(39.7,270)(42.2,2730)(44.8,2900)(46,2780)(47.9,1340)(50.5,210)(51.7,0)(61.8,0)(63.7,270)(66.2,2750)(68.8,3030)(70.1,2810)(72.6,1070)(75.1,130)(76.4,0)(85.3,0)(87.8,530)(90.1,2730)(91.6,2900)(93.5,2670)(96.6,530)(99.2,0)(109.3,0)(111.2,270)(113.7,2940)(116.2,3210)(117.5,3180)(120.7,1340)(123.2,0)(133.3,0)(135.8,1340)(138.4,2810)(139.6,3190)(141.5,2890)(144.7,1070)(147.9,0)(157.4,0)(159.2,1070)(161.8,2810)(164.3,3150)(166.2,2670)(168.7,1070)(170.6,0)(171.3,0)};
\end{axis}
\end{tikzpicture}
\end{document}
